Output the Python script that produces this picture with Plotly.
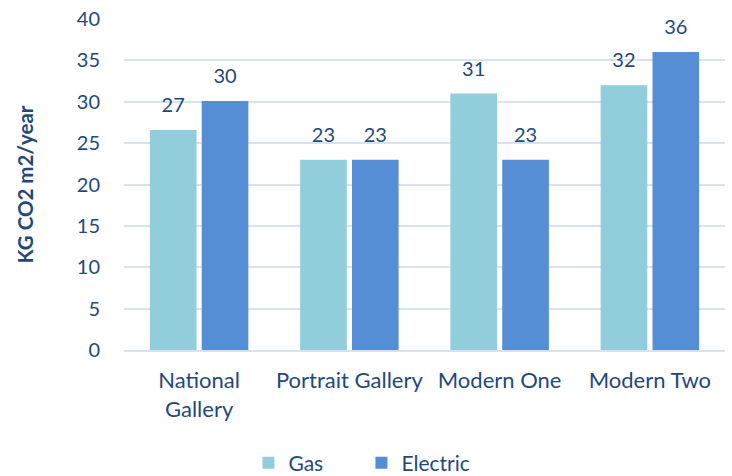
import plotly.graph_objects as go

categories = ["National Gallery", "Portrait Gallery", "Modern One", "Modern Two"]
tick_labels = ["National<br>Gallery", "Portrait Gallery", "Modern One", "Modern Two"]
gas = [26.6, 23, 31, 32]
electric = [30.1, 23, 23, 36]
y_ticks = [0, 5, 10, 15, 20, 25, 30, 35, 40]

GAS_COLOR = "#92CDDC"
ELEC_COLOR = "#558ED5"
TEXT_COLOR = "#1F497D"
GRID_COLOR = "#D9E2F1"
FONT = "Lato"

fig = go.Figure()
for name, vals, col in [("Gas", gas, GAS_COLOR), ("Electric", electric, ELEC_COLOR)]:
    fig.add_trace(go.Bar(
        x=categories, y=vals, name=name, marker=dict(color=col, line=dict(width=0)),
        offsetgroup=name, alignmentgroup="a",
    ))
for name, vals in [("Gas", gas), ("Electric", electric)]:
    fig.add_trace(go.Scatter(
        x=categories, y=vals, mode="markers+text", text=[f"{v:.0f}" for v in vals],
        textposition="top center", textfont=dict(family=FONT, size=20, color=TEXT_COLOR),
        marker=dict(size=19, opacity=0), offsetgroup=name, alignmentgroup="a",
        showlegend=False, hoverinfo="skip", cliponaxis=False,
    ))

fig.update_layout(
    width=732, height=476,
    margin=dict(l=123.5, r=7, t=19, b=125.5, autoexpand=False),
    paper_bgcolor="white", plot_bgcolor="white",
    barmode="group", bargap=0.31, bargroupgap=0.1,
    scattermode="group", scattergap=0.31,
    font=dict(family=FONT, color=TEXT_COLOR),
    showlegend=True,
    legend=dict(orientation="h", x=0.207, xanchor="left", y=-0.342, yanchor="middle",
                font=dict(family=FONT, size=21, color=TEXT_COLOR),
                itemwidth=30, entrywidth=68, tracegroupgap=0, bgcolor="rgba(0,0,0,0)"),
    xaxis=dict(
        tickmode="array", tickvals=categories, ticktext=tick_labels,
        tickfont=dict(family=FONT, size=22, color=TEXT_COLOR),
        showline=True, linecolor=GRID_COLOR, linewidth=1.5, showgrid=False,
        ticks="", ticklabelstandoff=10, ticklabeloverflow="allow",
    ),
    yaxis=dict(
        range=[0, 40], tickmode="array", tickvals=y_ticks,
        tickfont=dict(family=FONT, size=20, color=TEXT_COLOR),
        showgrid=True, gridcolor=GRID_COLOR, gridwidth=1.5,
        zeroline=False, showline=False, ticks="", ticklabelstandoff=23,
        ticklabeloverflow="allow",
        title=dict(text="<b>KG CO2 m2/year</b>", font=dict(family=FONT, size=20.5, color=TEXT_COLOR), standoff=37),
    ),
)

fig.write_html("out.html", config={"displayModeBar": False},
               post_script="document.body.style.margin='0px';")
